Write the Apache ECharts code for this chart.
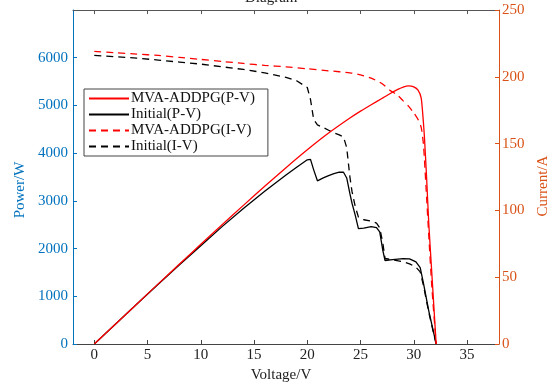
<!DOCTYPE html>
<html>
<head>
<meta charset="utf-8">
<script src="https://cdn.jsdelivr.net/npm/echarts@6/dist/echarts.min.js"></script>
<style>html,body{margin:0;padding:0;background:#fff;}#c{width:549px;height:384px;}</style>
</head>
<body>
<div id="c"></div>
<script>
// Voltage samples (V)
const vMva = [0, 2, 4, 6, 8, 10, 12, 14, 16, 18, 20, 22, 24, 25, 26, 27, 27.75, 28.5, 29, 29.5, 30, 30.4, 30.7, 30.9, 31.0, 31.2, 31.4, 31.7, 32.1];
// MVA-ADDPG power (W)
const pMva = [0, 420, 840, 1260, 1675, 2090, 2500, 2905, 3305, 3695, 4070, 4420, 4735, 4880, 5015, 5145, 5245, 5335, 5385, 5410, 5390, 5320, 5150, 4650, 4330, 3500, 2550, 1450, 0];
// MVA-ADDPG current (A)
const iMva = [219, 218, 217, 216, 214.5, 213, 211.5, 210, 208.5, 207.5, 206, 204.5, 203, 201.5, 199, 195, 190, 186, 182, 178, 173, 168, 162, 150, 138, 110, 82, 42, 0];

const vInit = [0, 2, 4, 6, 8, 10, 12, 14, 16, 18, 19, 20, 20.3, 20.6, 20.95, 21.5, 22, 22.5, 23, 23.4, 23.7, 24, 24.2, 24.5, 24.8, 25.3, 26, 26.5, 26.8, 27.1, 27.3, 28, 29, 29.6, 30.2, 30.6, 30.9, 31.4, 31.8, 32.1];
// Initial power (W)
const pInit = [0, 420, 838, 1252, 1660, 2060, 2460, 2840, 3200, 3540, 3705, 3860, 3870, 3650, 3420, 3480, 3530, 3570, 3600, 3600, 3480, 3150, 2950, 2700, 2420, 2430, 2460, 2440, 2350, 1950, 1750, 1770, 1790, 1785, 1720, 1600, 1280, 700, 300, 0];
// Initial current (A)
const iInit = [216, 215, 214, 212.5, 211, 209.5, 207.5, 205.5, 203, 199.5, 197, 192, 183, 168, 164, 162, 160, 158, 156.5, 155, 147, 125, 114, 103, 95, 93, 92, 90.5, 87, 75, 64, 63, 61.5, 60, 57.5, 54, 44, 24, 10, 0];

const xTicks = [0, 5, 10, 15, 20, 25, 30, 35];
const leftTicks = [0, 1000, 2000, 3000, 4000, 5000, 6000];
const rightTicks = [0, 50, 100, 150, 200, 250];
const seriesNames = ['MVA-ADDPG(P-V)', 'Initial(P-V)', 'MVA-ADDPG(I-V)', 'Initial(I-V)'];

const FONT = 'Liberation Serif';
const BLUE = '#0072BD';
const ORANGE = '#D95319';
const GRAYAX = '#444';

const zip = (a, b) => a.map((v, i) => [v, b[i]]);
const plain = (v) => String(v);

const chart = echarts.init(document.getElementById('c'));
chart.setOption({
  animation: false,
  backgroundColor: '#fff',
  grid: { left: 73, right: 50, top: 10, bottom: 40, containLabel: false, outerBoundsMode: 'none' },
  graphic: [{
    type: 'text', left: 245, top: -9,
    style: { text: 'Diagram', font: '15px "Liberation Serif"', fill: '#222' }
  }],
  legend: {
    orient: 'vertical', left: 84, top: 89,
    data: seriesNames,
    backgroundColor: '#fff',
    borderColor: '#444', borderWidth: 1,
    padding: [2, 13, 2, 4], itemGap: 1,
    itemWidth: 40, itemHeight: 15,
    itemStyle: { opacity: 0 },
    textStyle: { fontFamily: FONT, fontSize: 15, color: '#111', padding: [0, 0, 0, -3] }
  },
  xAxis: [{
    type: 'value', min: -2, max: 38, position: 'bottom',
    name: 'Voltage/V', nameLocation: 'middle', nameGap: 18,
    nameTextStyle: { fontFamily: FONT, fontSize: 15, color: '#222', padding: [0, 10, 0, 0] },
    axisLine: { onZero: false, lineStyle: { color: GRAYAX, width: 1 } },
    axisTick: { inside: true, length: 4, customValues: xTicks, lineStyle: { color: GRAYAX } },
    axisLabel: { customValues: xTicks, formatter: plain, fontFamily: FONT, fontSize: 15, color: '#222', margin: 4 },
    splitLine: { show: false }
  }, {
    type: 'value', min: -2, max: 38, position: 'top',
    axisLine: { onZero: false, lineStyle: { color: '#555', width: 1 } },
    axisTick: { inside: true, length: 4, customValues: xTicks, lineStyle: { color: '#555' } },
    axisLabel: { show: false },
    splitLine: { show: false }
  }],
  yAxis: [{
    type: 'value', min: 0, max: 7000, position: 'left',
    name: 'Power/W', nameLocation: 'middle', nameGap: 45, nameRotate: 90,
    nameTextStyle: { fontFamily: FONT, fontSize: 15, color: BLUE, padding: [0, 26, 0, 0] },
    axisLine: { show: true, onZero: false, lineStyle: { color: BLUE, width: 1 } },
    axisTick: { inside: true, length: 4, customValues: leftTicks, lineStyle: { color: BLUE } },
    axisLabel: { customValues: leftTicks, formatter: plain, fontFamily: FONT, fontSize: 15, color: BLUE, margin: 5 },
    splitLine: { show: false }
  }, {
    type: 'value', min: 0, max: 250, position: 'right',
    name: 'Current/A', nameLocation: 'middle', nameGap: 23, nameRotate: 90,
    nameTextStyle: { fontFamily: FONT, fontSize: 15, color: ORANGE, padding: [0, 18, 0, 0] },
    axisLine: { show: true, onZero: false, lineStyle: { color: ORANGE, width: 1 } },
    axisTick: { inside: true, length: 4, customValues: rightTicks, lineStyle: { color: ORANGE } },
    axisLabel: { customValues: rightTicks, formatter: plain, fontFamily: FONT, fontSize: 15, color: ORANGE, margin: 3 },
    splitLine: { show: false }
  }],
  series: [
    { name: seriesNames[1], type: 'line', xAxisIndex: 0, yAxisIndex: 0, data: zip(vInit, pInit), showSymbol: false, symbol: 'none',
      lineStyle: { color: '#000', width: 1.3 }, itemStyle: { color: '#000' } },
    { name: seriesNames[3], type: 'line', xAxisIndex: 0, yAxisIndex: 1, data: zip(vInit, iInit), showSymbol: false, symbol: 'none',
      lineStyle: { color: '#000', width: 1.3, type: [7, 5] }, itemStyle: { color: '#000' } },
    { name: seriesNames[2], type: 'line', xAxisIndex: 0, yAxisIndex: 1, data: zip(vMva, iMva), showSymbol: false, symbol: 'none', smooth: 0.2,
      lineStyle: { color: '#ff0000', width: 1.3, type: [7, 5] }, itemStyle: { color: '#ff0000' } },
    { name: seriesNames[0], type: 'line', xAxisIndex: 0, yAxisIndex: 0, data: zip(vMva, pMva), showSymbol: false, symbol: 'none', smooth: 0.2,
      lineStyle: { color: '#ff0000', width: 1.3 }, itemStyle: { color: '#ff0000' } }
  ]
});
</script>
</body>
</html>
